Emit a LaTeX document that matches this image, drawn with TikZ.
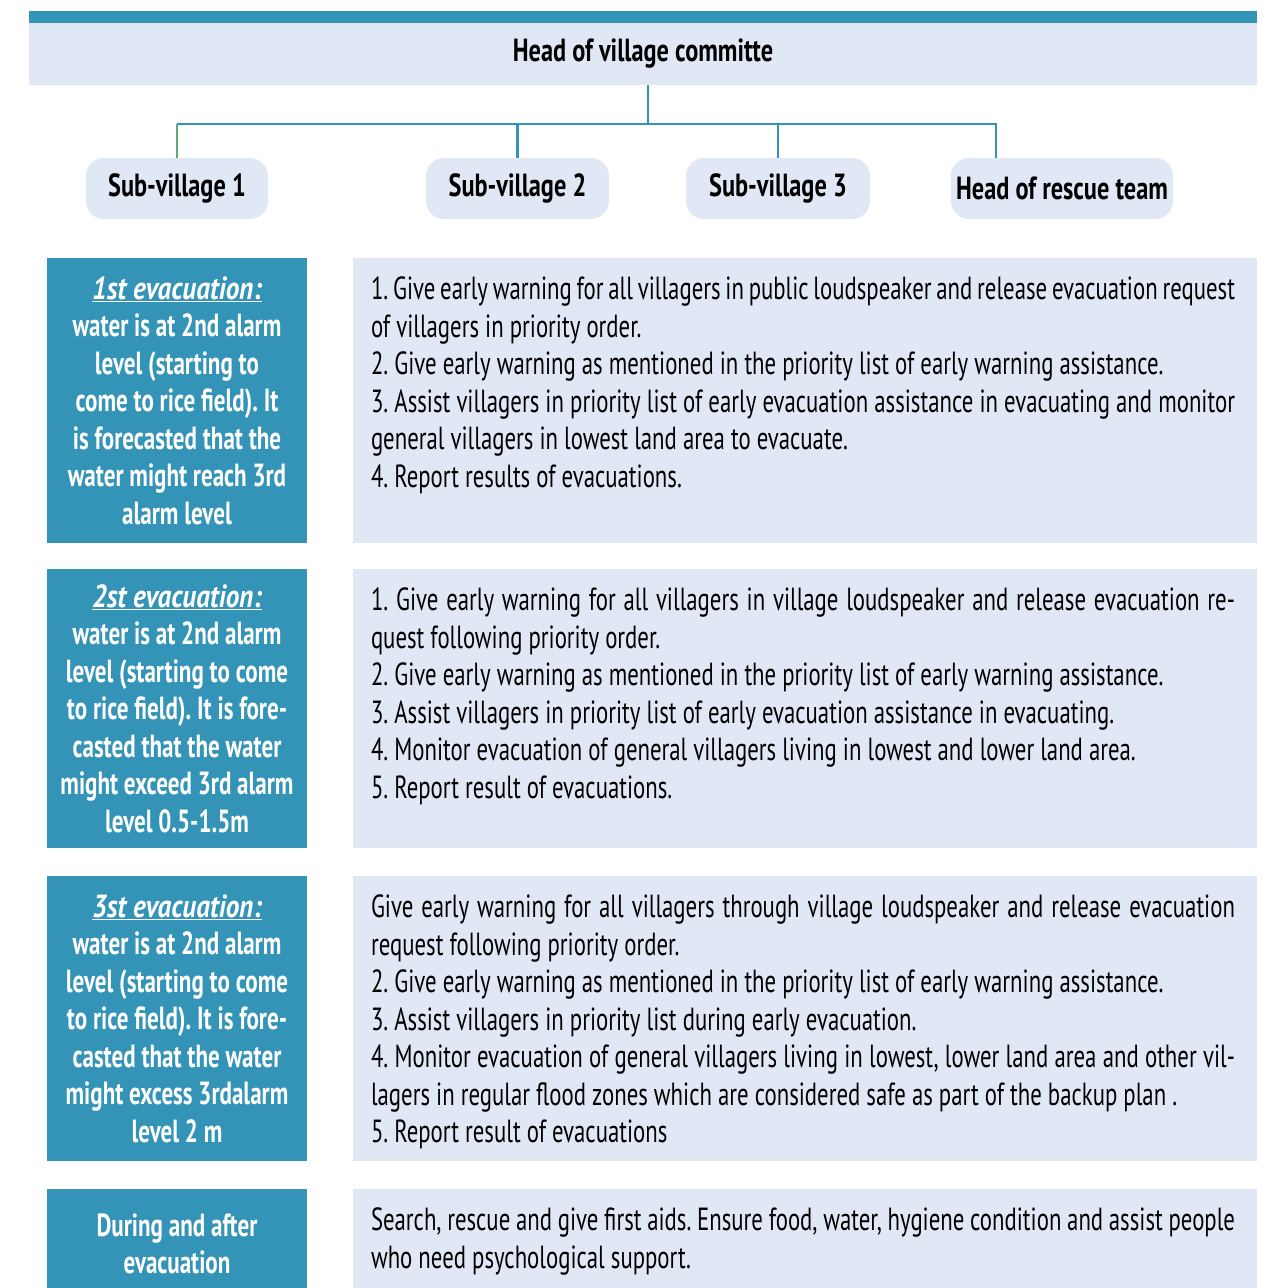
\documentclass[tikz,border=0pt]{standalone}
\usepackage{fontspec}
\setmainfont{PT Sans}[FakeStretch=0.712]
\newfontfamily\phasefont{PT Sans}[FakeStretch=0.76]
\newfontfamily\stepfont{PT Sans}[FakeStretch=0.72]
\newfontfamily\stepheadfont{PT Sans Bold Italic}[FakeStretch=0.85]
\usetikzlibrary{positioning}

\definecolor{evteal}{RGB}{52,148,184}
\definecolor{evlight}{RGB}{225,232,245}
\definecolor{evgreen}{RGB}{96,168,120}

\newcommand{\bodysize}{\fontsize{32}{37.5}\selectfont}
\newcommand{\fullline}[1]{\makebox[864pt][s]{#1}}
\newcommand{\phasehead}[1]{\underline{\stepheadfont #1}}

\begin{document}
\frenchspacing
\begin{tikzpicture}[x=1pt, y=-1pt,
    link/.style={draw=evteal, line width=2.6pt},
    subbox/.style={fill=evlight, rounded corners=18pt, minimum height=61pt, inner xsep=0pt, font=\phasefont\bfseries\bodysize},
    phase/.style={fill=evteal, text=white, minimum width=260pt, inner sep=0pt, align=center, font=\stepfont\bfseries\bodysize},
    taskbox/.style={fill=evlight, minimum width=904pt, inner sep=0pt},
    tasktext/.style={anchor=north west, inner sep=0pt, align=left, font=\bodysize}]

    \useasboundingbox (0, 0) rectangle (1271, 1288);

    % top of the chart
    \node[fill=evlight, minimum width=1228pt, minimum height=62pt, inner sep=0pt, font=\phasefont\bfseries\bodysize] (head) at (643, 54) {Head of village committe};
    \fill[evteal] ([yshift=12pt]head.north west) rectangle (head.north east);

    \node[subbox, minimum width=182pt] (sv1) at (177, 188.5) {Sub-village 1};
    \node[subbox, minimum width=183pt] (sv2) at (517.5, 188.5) {Sub-village 2};
    \node[subbox, minimum width=184pt] (sv3) at (778, 188.5) {Sub-village 3};
    \node[subbox, minimum width=222pt] (rescue) at (1062, 188.5) {Head of rescue team};

    \coordinate (bus) at (648, 124);
    \draw[link] (head.south -| bus) -- (bus);
    \draw[link] (sv1.north |- bus) -- (bus) -| ([xshift=-66pt]rescue.north);
    \draw[link, draw=evgreen] (sv1.north) -- (sv1.north |- bus);
    \draw[link] (sv2.north) -- (sv2.north |- bus);
    \draw[link] (sv3.north) -- (sv3.north |- bus);

    % evacuation steps
    \node[phase, minimum height=285pt] (ev1) at (177, 400.5) {\phasehead{1st evacuation:}\\ water is at 2nd alarm\\ level (starting to\\ come to rice field). It\\ is forecasted that the\\ water might reach 3rd\\ alarm level};
    \node[taskbox, minimum height=285pt] (task1) at (805, 400.5) {};
    \node[tasktext] (text1) at ([xshift=18pt, yshift=-19pt]task1.north west) {\fullline{1. Give early warning for all villagers in public loudspeaker and release evacuation request}\\ of villagers in priority order.\\ 2. Give early warning as mentioned in the priority list of early warning assistance.\\ \fullline{3. Assist villagers in priority list of early evacuation assistance in evacuating and monitor}\\ general villagers in lowest land area to evacuate.\\ 4. Report results of evacuations.};

    \node[phase, minimum height=279pt] (ev2) at (177, 708.5) {\phasehead{2st evacuation:}\\ water is at 2nd alarm\\ level (starting to come\\ to rice field). It is fore-\\ casted that the water\\ might exceed 3rd alarm\\ level 0.5-1.5m};
    \node[taskbox, minimum height=279pt] (task2) at (805, 708.5) {};
    \node[tasktext] (text2) at ([xshift=18pt, yshift=-19pt]task2.north west) {\fullline{1. Give early warning for all villagers in village loudspeaker and release evacuation re-}\\ quest following priority order.\\ 2. Give early warning as mentioned in the priority list of early warning assistance.\\ 3. Assist villagers in priority list of early evacuation assistance in evacuating.\\ 4. Monitor evacuation of general villagers living in lowest and lower land area.\\ 5. Report result of evacuations.};

    \node[phase, minimum height=285pt] (ev3) at (177, 1018.5) {\phasehead{3st evacuation:}\\ water is at 2nd alarm\\ level (starting to come\\ to rice field). It is fore-\\ casted that the water\\ might excess 3rdalarm\\ level 2 m};
    \node[taskbox, minimum height=285pt] (task3) at (805, 1018.5) {};
    \node[tasktext] (text3) at ([xshift=18pt, yshift=-19pt]task3.north west) {\fullline{Give early warning for all villagers through village loudspeaker and release evacuation}\\ request following priority order.\\ 2. Give early warning as mentioned in the priority list of early warning assistance.\\ 3. Assist villagers in priority list during early evacuation.\\ \fullline{4. Monitor evacuation of general villagers living in lowest, lower land area and other vil-}\\ lagers in regular flood zones which are considered safe as part of the backup plan .\\ 5. Report result of evacuations};

    \node[phase, minimum height=110pt] (ev4) at (177, 1244) {During and after\\ evacuation};
    \node[taskbox, minimum height=110pt] (task4) at (805, 1244) {};
    \node[tasktext] (text4) at ([xshift=18pt, yshift=-19pt]task4.north west) {\fullline{Search, rescue and give first aids. Ensure food, water, hygiene condition and assist people}\\ who need psychological support.};
\end{tikzpicture}
\end{document}
